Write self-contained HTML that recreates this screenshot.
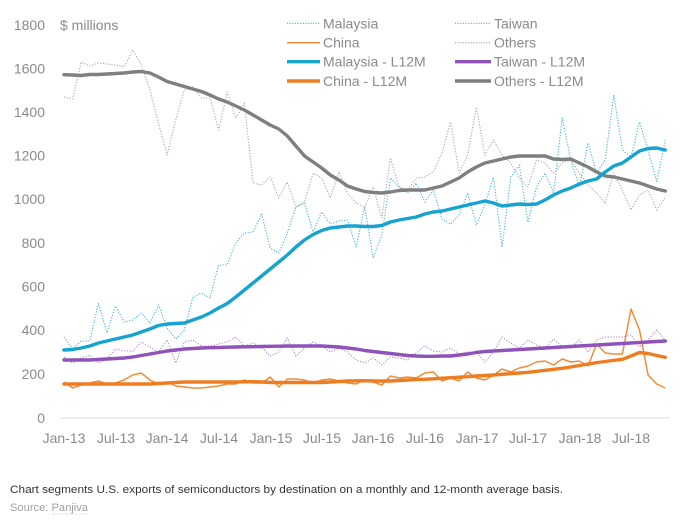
<!DOCTYPE html>
<html><head><meta charset="utf-8"><style>
html,body{margin:0;padding:0;background:#fff;}
svg{display:block;}
text{font-family:"Liberation Sans",sans-serif;}
</style></head><body>
<svg width="690" height="527" viewBox="0 0 690 527" xmlns="http://www.w3.org/2000/svg">
<rect width="690" height="527" fill="#fff"/>
<g font-size="14" fill="#8a8a8a" text-anchor="end">
<text x="45" y="30">1800</text>
<text x="45" y="73.5">1600</text>
<text x="45" y="117">1400</text>
<text x="45" y="160.5">1200</text>
<text x="45" y="204">1000</text>
<text x="45" y="248">800</text>
<text x="45" y="291.5">600</text>
<text x="45" y="335">400</text>
<text x="45" y="379">200</text>
<text x="45" y="423">0</text>
</g>
<text x="60" y="30" font-size="14" fill="#8a8a8a">$ millions</text>
<line x1="60" y1="418" x2="670" y2="418" stroke="#e3e3e3" stroke-width="1.2"/>
<g font-size="14" fill="#8a8a8a" text-anchor="middle">
<text x="64" y="443">Jan-13</text>
<text x="116" y="443">Jul-13</text>
<text x="167" y="443">Jan-14</text>
<text x="219" y="443">Jul-14</text>
<text x="271" y="443">Jan-15</text>
<text x="322" y="443">Jul-15</text>
<text x="373" y="443">Jan-16</text>
<text x="425" y="443">Jul-16</text>
<text x="477" y="443">Jan-17</text>
<text x="528" y="443">Jul-17</text>
<text x="580" y="443">Jan-18</text>
<text x="631" y="443">Jul-18</text>
</g>
<g fill="none" stroke-linejoin="round">
<polyline stroke="#a8a8a8" stroke-width="1.1" stroke-dasharray="1.2 1.6" points="64,97 72.6,99 81.2,62 89.8,66 98.4,63 106.9,64 115.5,65 124.1,67 132.7,50 141.3,65 149.9,90 158.5,123 167.1,155 175.7,120 184.3,90 192.9,87 201.4,98 210,98 218.6,130 227.2,92 235.8,118 244.4,103 253,183 261.6,185 270.2,177 278.8,198 287.3,182 295.9,207 304.5,202 313.1,173 321.7,178 330.3,198 338.9,172 347.5,193 356.1,203 364.7,207 373.2,187 381.8,218 390.4,158 399,187 407.6,190 416.2,178 424.8,177 433.4,172 442,153 450.6,122 459.1,173 467.7,155 476.3,107 484.9,155 493.5,140 502.1,155 510.7,163 519.3,178 527.9,187 536.5,160 545,163 553.6,173 562.2,163 570.8,160 579.4,173 588,185 596.6,193 605.2,203 613.8,173 622.4,190 631,210 639.5,195 648.1,190 656.7,210 665.3,197"/>
<polyline stroke="#45b2d8" stroke-width="1.1" stroke-dasharray="1.2 1.6" points="64,337 72.6,349 81.2,341 89.8,341 98.4,303 106.9,333 115.5,306 124.1,322 132.7,320 141.3,313 149.9,323 158.5,305 167.1,328 175.7,339 184.3,330 192.9,297 201.4,293 210,298 218.6,265 227.2,265 235.8,243 244.4,233 253,232 261.6,214 270.2,248 278.8,253 287.3,233 295.9,207 304.5,203 313.1,232 321.7,212 330.3,224 338.9,221 347.5,220 356.1,247 364.7,207 373.2,258 381.8,235 390.4,178 399,187 407.6,193 416.2,183 424.8,202 433.4,190 442,219 450.6,224 459.1,215 467.7,193 476.3,225 484.9,205 493.5,177 502.1,247 510.7,177 519.3,165 527.9,222 536.5,187 545,173 553.6,193 562.2,118 570.8,160 579.4,187 588,143 596.6,173 605.2,160 613.8,95 622.4,150 631,157 639.5,122 648.1,150 656.7,182 665.3,140"/>
<polyline stroke="#ac88d0" stroke-width="1.1" stroke-dasharray="1.2 1.6" points="64,357 72.6,363 81.2,358 89.8,355 98.4,363 106.9,359 115.5,349 124.1,351 132.7,351 141.3,342 149.9,347 158.5,352 167.1,340 175.7,363 184.3,342 192.9,340 201.4,346 210,346 218.6,344 227.2,342 235.8,337 244.4,346 253,343 261.6,347 270.2,356 278.8,352 287.3,338 295.9,356 304.5,348 313.1,342 321.7,346 330.3,352 338.9,348 347.5,352 356.1,360 364.7,363 373.2,358 381.8,365 390.4,357 399,358 407.6,360 416.2,353 424.8,346 433.4,351 442,352 450.6,348 459.1,354 467.7,352 476.3,352 484.9,362 493.5,352 502.1,337 510.7,343 519.3,348 527.9,340 536.5,345 545,348 553.6,339 562.2,347 570.8,348 579.4,340 588,352 596.6,340 605.2,337 613.8,337 622.4,337 631,335 639.5,347 648.1,340 656.7,330 665.3,340"/>
<polyline stroke="#f08c3a" stroke-width="1.5" points="64,382 72.6,388 81.2,385 89.8,383 98.4,381 106.9,384 115.5,383 124.1,380 132.7,375 141.3,373 149.9,380 158.5,384 167.1,382 175.7,386 184.3,387 192.9,388 201.4,388 210,387 218.6,386 227.2,384 235.8,384 244.4,380 253,383 261.6,383 270.2,377 278.8,387 287.3,379 295.9,379 304.5,380 313.1,383 321.7,380 330.3,379 338.9,381 347.5,383 356.1,384 364.7,380 373.2,382 381.8,385 390.4,376 399,378 407.6,377 416.2,378 424.8,373 433.4,372 442,381 450.6,378 459.1,381 467.7,372 476.3,378 484.9,380 493.5,375 502.1,369 510.7,372 519.3,368 527.9,366 536.5,362 545,361 553.6,365 562.2,359 570.8,362 579.4,361 588,366 596.6,344 605.2,353 613.8,354 622.4,354 631,309 639.5,330 648.1,375 656.7,384 665.3,388"/>
<polyline stroke="#7f7f7f" stroke-width="3.4" stroke-linecap="round" points="64,74.7 72.6,75 81.2,75.5 89.8,74.5 98.4,74.5 106.9,74 115.5,73.5 124.1,73 132.7,72 141.3,71.5 149.9,73 158.5,77 167.1,81.5 175.7,84 184.3,86.5 192.9,89 201.4,91.5 210,95 218.6,99 227.2,102 235.8,106 244.4,110 253,115 261.6,120 270.2,125 278.8,129 287.3,136 295.9,146 304.5,156 313.1,162 321.7,168 330.3,175 338.9,180 347.5,186 356.1,189 364.7,191.5 373.2,192.5 381.8,193 390.4,192 399,190.5 407.6,190 416.2,190 424.8,190 433.4,188 442,186 450.6,182 459.1,178 467.7,172 476.3,167 484.9,163 493.5,161 502.1,159 510.7,157 519.3,156 527.9,156 536.5,156 545,156 553.6,159 562.2,159.5 570.8,159 579.4,163 588,167 596.6,172 605.2,176 613.8,177 622.4,179 631,181 639.5,183 648.1,186 656.7,189 665.3,191"/>
<polyline stroke="#8e52b9" stroke-width="3.4" stroke-linecap="round" points="64,360 72.6,360 81.2,360 89.8,360 98.4,359.5 106.9,359 115.5,358.5 124.1,358 132.7,357 141.3,355.5 149.9,354 158.5,352.5 167.1,351 175.7,350 184.3,349 192.9,348.5 201.4,348 210,347.7 218.6,347.5 227.2,347.2 235.8,347 244.4,346.8 253,346.7 261.6,346.5 270.2,346.3 278.8,346.2 287.3,346 295.9,346 304.5,346 313.1,346 321.7,346 330.3,346.5 338.9,347 347.5,348 356.1,349 364.7,350.5 373.2,351.5 381.8,352.5 390.4,353.5 399,354.5 407.6,355.5 416.2,356 424.8,356.3 433.4,356.3 442,356 450.6,356 459.1,355 467.7,354 476.3,352.5 484.9,351.5 493.5,351 502.1,350.5 510.7,350 519.3,349.5 527.9,349 536.5,348.5 545,348 553.6,347.5 562.2,347 570.8,346.5 579.4,346 588,345.5 596.6,345 605.2,344.5 613.8,344 622.4,343.5 631,343 639.5,342.5 648.1,342 656.7,341.5 665.3,341"/>
<polyline stroke="#ee7d22" stroke-width="3.4" stroke-linecap="round" points="64,384 72.6,384 81.2,384 89.8,384 98.4,384 106.9,384 115.5,384 124.1,384 132.7,384 141.3,384 149.9,384 158.5,383.5 167.1,383 175.7,382.5 184.3,382 192.9,382 201.4,382 210,382 218.6,382 227.2,382 235.8,382 244.4,381.8 253,381.7 261.6,382 270.2,382.5 278.8,382.5 287.3,382.5 295.9,382.5 304.5,382.5 313.1,382.5 321.7,382.5 330.3,382 338.9,381.5 347.5,381 356.1,380.8 364.7,380.7 373.2,381 381.8,381 390.4,381 399,380.5 407.6,380 416.2,379.5 424.8,379.3 433.4,378.8 442,378.2 450.6,377.7 459.1,377.2 467.7,376.7 476.3,376 484.9,375.5 493.5,375 502.1,374.3 510.7,373.6 519.3,373 527.9,372.3 536.5,371.3 545,370.3 553.6,369.3 562.2,368.3 570.8,367 579.4,365.5 588,364 596.6,362.7 605.2,361.5 613.8,360.3 622.4,359.3 631,356 639.5,352.5 648.1,353.5 656.7,355.5 665.3,357.3"/>
<polyline stroke="#17a3d0" stroke-width="3.4" stroke-linecap="round" points="64,350 72.6,349.5 81.2,348 89.8,346 98.4,343 106.9,341 115.5,339 124.1,337 132.7,335 141.3,332 149.9,329 158.5,325.5 167.1,324 175.7,323.5 184.3,323 192.9,320 201.4,317 210,313 218.6,308 227.2,303.5 235.8,297 244.4,290 253,283 261.6,276 270.2,269 278.8,262 287.3,255 295.9,247 304.5,240 313.1,234.5 321.7,230.5 330.3,228 338.9,227 347.5,226 356.1,226 364.7,226.5 373.2,226.5 381.8,225.5 390.4,222 399,220 407.6,218.5 416.2,217 424.8,214 433.4,212 442,211 450.6,209 459.1,207 467.7,205 476.3,203 484.9,201 493.5,203 502.1,206 510.7,205 519.3,204 527.9,204.5 536.5,204 545,200 553.6,195 562.2,191 570.8,188 579.4,184 588,181 596.6,179 605.2,172 613.8,166 622.4,163 631,157 639.5,151 648.1,148.5 656.7,148 665.3,150"/>
</g>
<g fill="none">
<line x1="287" y1="23.3" x2="320" y2="23.3" stroke="#45b2d8" stroke-width="1.2" stroke-dasharray="1.2 1.4"/>
<line x1="287" y1="42.7" x2="320" y2="42.7" stroke="#f08c3a" stroke-width="1.5"/>
<line x1="287" y1="61.7" x2="320" y2="61.7" stroke="#17a3d0" stroke-width="3.4"/>
<line x1="287" y1="81" x2="320" y2="81" stroke="#ee7d22" stroke-width="3.4"/>
<line x1="455" y1="23.3" x2="491" y2="23.3" stroke="#ac88d0" stroke-width="1.2" stroke-dasharray="1.2 1.4"/>
<line x1="455" y1="42.7" x2="491" y2="42.7" stroke="#a8a8a8" stroke-width="1.2" stroke-dasharray="1.2 1.4"/>
<line x1="455" y1="61.7" x2="491" y2="61.7" stroke="#8e52b9" stroke-width="3.4"/>
<line x1="455" y1="81" x2="491" y2="81" stroke="#7f7f7f" stroke-width="3.4"/>
</g>
<g font-size="14" fill="#8a8a8a">
<text x="323" y="28.3">Malaysia</text>
<text x="323" y="47.7">China</text>
<text x="323" y="66.7">Malaysia - L12M</text>
<text x="323" y="86">China - L12M</text>
<text x="494" y="28.3">Taiwan</text>
<text x="494" y="47.7">Others</text>
<text x="494" y="66.7">Taiwan - L12M</text>
<text x="494" y="86">Others - L12M</text>
</g>
<text x="10" y="493" font-size="11.3" fill="#333" textLength="553" lengthAdjust="spacingAndGlyphs">Chart segments U.S. exports of semiconductors by destination on a monthly and 12-month average basis.</text>
<text x="10" y="511" font-size="11.3" fill="#a0a0a0" textLength="78" lengthAdjust="spacingAndGlyphs">Source: Panjiva</text>
<line x1="52" y1="514" x2="88" y2="514" stroke="#bdbdbd" stroke-width="0.8" stroke-dasharray="1 1"/>
</svg>
</body></html>
